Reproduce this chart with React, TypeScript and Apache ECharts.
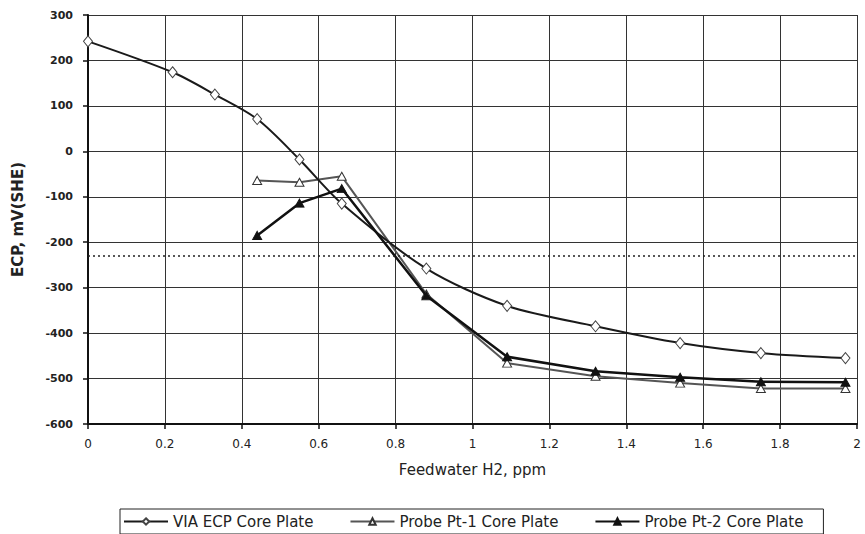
import React, { useEffect, useRef } from "react";
import * as echarts from "echarts";

const viaX = [0, 0.22, 0.33, 0.44, 0.55, 0.66, 0.88, 1.09, 1.32, 1.54, 1.75, 1.97];
const viaY = [242, 174, 125, 71, -18, -115, -258, -340, -385, -422, -444, -455];
const pt1X = [0.44, 0.55, 0.66, 0.88, 1.09, 1.32, 1.54, 1.75, 1.97];
const pt1Y = [-64, -68, -55, -314, -466, -495, -510, -522, -522];
const pt2X = [0.44, 0.55, 0.66, 0.88, 1.09, 1.32, 1.54, 1.75, 1.97];
const pt2Y = [-185, -114, -82, -318, -452, -484, -497, -507, -508];
const thresholdY = -230;
const seriesNames = ["VIA ECP Core Plate", "Probe Pt-1 Core Plate", "Probe Pt-2 Core Plate"];

const zip = (xs: number[], ys: number[]) => xs.map((x, i) => [x, ys[i]]);

export default function App() {
  const ref = useRef<HTMLDivElement>(null);
  useEffect(() => {
    document.body.style.margin = "0";
    if (!ref.current) return;
    const chart = echarts.init(ref.current, undefined, { renderer: "svg" });
    const font = "DejaVu Sans, Liberation Sans, Arial, sans-serif";
    chart.setOption({
      animation: false,
      backgroundColor: "#ffffff",
      textStyle: { fontFamily: font },
      grid: { left: 88, right: 8, top: 15, bottom: 110 },
      legend: {
        data: seriesNames,
        left: 120,
        top: 509,
        itemWidth: 44,
        itemHeight: 8,
        itemGap: 36,
        padding: [5, 20, 5, 3],
        borderColor: "#222",
        borderWidth: 1,
        textStyle: { fontFamily: font, fontSize: 15, color: "#222" },
      },
      xAxis: {
        type: "value",
        min: 0,
        max: 2,
        interval: 0.2,
        name: "Feedwater H2, ppm",
        nameLocation: "middle",
        nameGap: 38,
        nameTextStyle: { fontFamily: font, fontSize: 15, color: "#222" },
        axisLine: { show: true, onZero: false, lineStyle: { color: "#111", width: 2 } },
        axisTick: { show: true, length: 5, lineStyle: { color: "#111", width: 1.5 } },
        axisLabel: { fontFamily: font, fontSize: 12, color: "#222", margin: 14 },
        splitLine: { show: true, lineStyle: { color: "#333", width: 1 } },
      },
      yAxis: {
        type: "value",
        min: -600,
        max: 300,
        interval: 100,
        name: "ECP, mV(SHE)",
        nameLocation: "middle",
        nameGap: 63,
        nameTextStyle: { fontFamily: font, fontSize: 15, fontWeight: "bold", color: "#222" },
        axisLine: { show: true, lineStyle: { color: "#111", width: 2 } },
        axisTick: { show: true, length: 5, lineStyle: { color: "#111", width: 1.5 } },
        axisLabel: { fontFamily: font, fontSize: 11, fontWeight: "bold", color: "#222", margin: 15 },
        splitLine: { show: true, lineStyle: { color: "#333", width: 1 } },
      },
      series: [
        {
          name: seriesNames[0],
          type: "line",
          data: zip(viaX, viaY),
          smooth: 0.3,
          symbol: "diamond",
          symbolSize: [9, 11],
          lineStyle: { color: "#1a1a1a", width: 2 },
          itemStyle: { color: "#ffffff", borderColor: "#444", borderWidth: 1 },
          z: 3,
          markLine: {
            silent: true,
            symbol: "none",
            label: { show: false },
            lineStyle: { color: "#222", type: [2, 3], width: 1.5 },
            data: [{ yAxis: thresholdY }],
          },
        },
        {
          name: seriesNames[1],
          type: "line",
          data: zip(pt1X, pt1Y),
          symbol: "triangle",
          symbolSize: [9, 8],
          lineStyle: { color: "#555", width: 2 },
          itemStyle: { color: "#ffffff", borderColor: "#333", borderWidth: 1 },
          z: 2,
        },
        {
          name: seriesNames[2],
          type: "line",
          data: zip(pt2X, pt2Y),
          symbol: "triangle",
          symbolSize: [9, 8],
          lineStyle: { color: "#111", width: 2.5 },
          itemStyle: { color: "#111", borderColor: "#111", borderWidth: 1 },
          z: 4,
        },
      ],
    });
    return () => chart.dispose();
  }, []);
  return <div ref={ref} style={{ width: 865, height: 534 }} />;
}
